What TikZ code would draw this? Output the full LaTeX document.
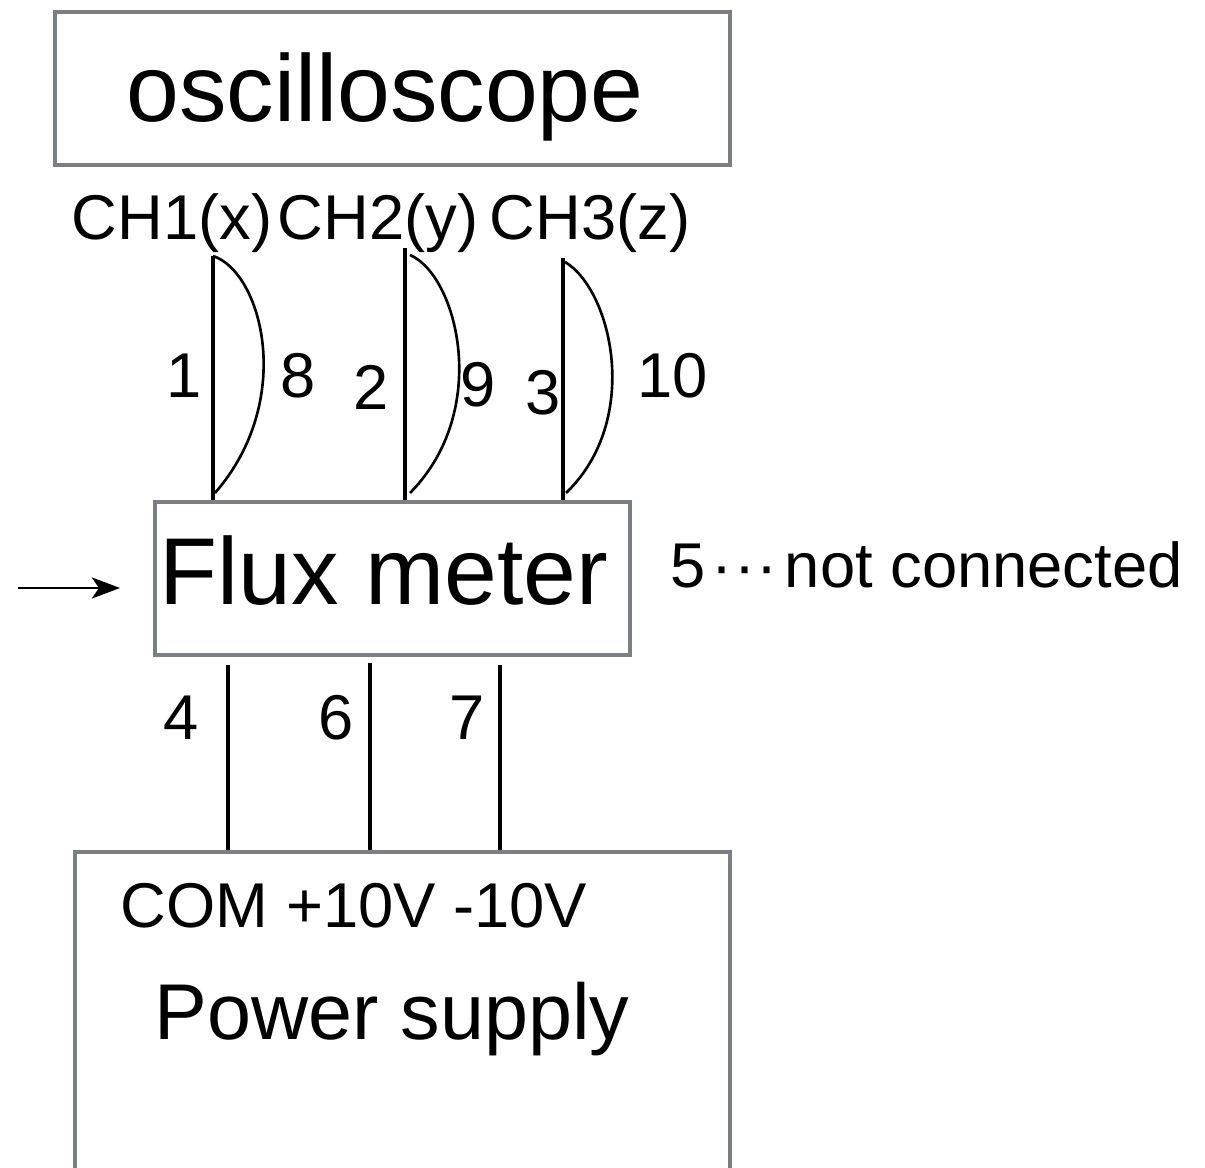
\documentclass[tikz,border=0pt]{standalone}
\usepackage{fontspec}
\setmainfont{Liberation Sans}
\usetikzlibrary{arrows.meta}
\definecolor{boxgray}{HTML}{7B7E84}
\tikzset{
  box/.style={draw=boxgray, line width=1.2pt, inner sep=0pt, shape=rectangle},
  wire/.style={draw=black, line width=1.1pt},
  loopwire/.style={draw=black, line width=0.75pt},
  big/.style={font=\fontsize{27pt}{30pt}\selectfont, anchor=base, inner sep=0pt},
  mid/.style={font=\fontsize{22.5pt}{26pt}\selectfont, anchor=base, inner sep=0pt},
  lab/.style={font=\fontsize{18pt}{21pt}\selectfont, anchor=base, inner sep=0pt},
}
\begin{document}
\begin{tikzpicture}[x=0.01cm,y=-0.01cm]
\useasboundingbox (0,0) rectangle (1205,1168);
\clip (0,0) rectangle (1205,1168);
% boxes
\node[box, minimum width=6.75cm, minimum height=1.53cm] (osc) at (392.5,88.5) {};
\node[box, minimum width=4.75cm, minimum height=1.53cm] (flux) at (392.5,578.5) {};
\node[box, minimum width=6.55cm, minimum height=3.28cm] (psu) at (402.5,1016) {};
% box texts
\node[big] (osct) at (385,122) {oscilloscope};
\node[big] (fluxt) at (384,605) {Flux meter};
\node[mid] (psut) at (392,1040) {Power supply};
\node[lab] (term) at (354,928) {COM +10V -10V};
% channel labels
\node[lab] (ch1) at (172,240) {CH1(x)};
\node[lab] (ch2) at (378,240) {CH2(y)};
\node[lab] (ch3) at (590,240) {CH3(z)};
% not connected
\node[lab, anchor=base west] (nc) at (670,588) {5\kern1.5pt·\kern0.5pt·\kern0.5pt·\kern2pt not connected};
% input arrow
\coordinate (in) at (18,588);
\coordinate (inend) at (120,588);
\draw[line width=0.7pt, -{Stealth[length=8pt,width=6pt,inset=2pt]}] (in) -- (inend);
% upper wires
\coordinate (a1) at (213,256);
\coordinate (a2) at (405,248);
\coordinate (a3) at (563,258);
\draw[wire] (a1) -- (a1 |- flux.north);
\draw[wire] (a2) -- (a2 |- flux.north);
\draw[wire] (a3) -- (a3 |- flux.north);
\coordinate (c1e) at (215,493);
\coordinate (c2s) at (410,255);
\coordinate (c2e) at (410,493);
\coordinate (c3s) at (565,262);
\coordinate (c3e) at (566,493);
\draw[loopwire] (a1) .. controls (262,272) and (296,400) .. (c1e);
\draw[loopwire] (c2s) .. controls (457,275) and (492,410) .. (c2e);
\draw[loopwire] (c3s) .. controls (612,290) and (642,420) .. (c3e);
% upper numbers
\node[lab] (n1) at (184,398) {1};
\node[lab] (n8) at (298,398) {8};
\node[lab] (n2) at (371,410) {2};
\node[lab] (n9) at (478,407) {9};
\node[lab] (n3) at (543,415) {3};
\node[lab] (n10) at (673,398) {10};
% lower wires
\coordinate (b1) at (228,665);
\coordinate (b2) at (370,663);
\coordinate (b3) at (500,665);
\draw[wire] (b1) -- (b1 |- psu.north);
\draw[wire] (b2) -- (b2 |- psu.north);
\draw[wire] (b3) -- (b3 |- psu.north);
\node[lab] (n4) at (181,740) {4};
\node[lab] (n6) at (336,740) {6};
\node[lab] (n7) at (467,740) {7};
\end{tikzpicture}
\end{document}
